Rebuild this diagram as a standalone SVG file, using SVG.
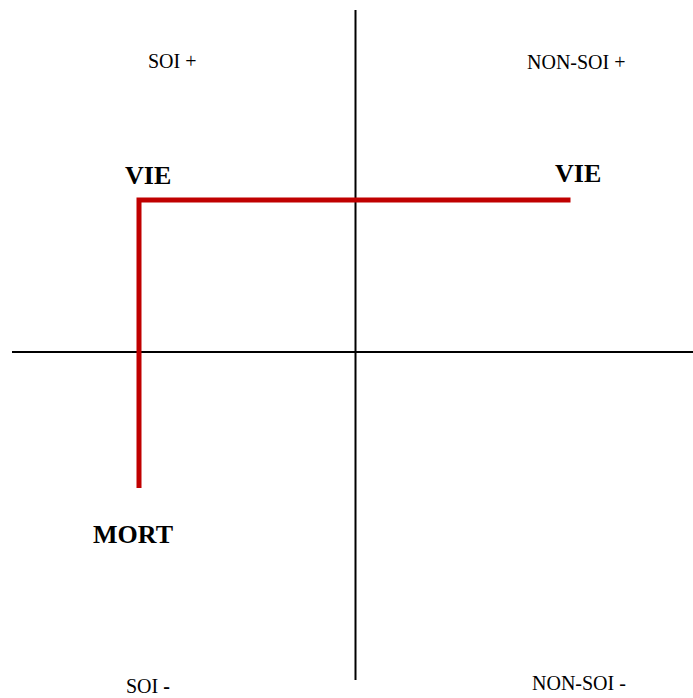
<svg xmlns="http://www.w3.org/2000/svg" width="693" height="698" viewBox="0 0 693 698">
<style>
.axis{stroke:#000;stroke-width:2;fill:none}
.red{stroke:#c00000;stroke-width:5;fill:none;stroke-linecap:butt;stroke-linejoin:miter}
.lbl{font-family:"Liberation Serif","Times New Roman",serif;font-size:20px;fill:#000}
.big{font-family:"Liberation Serif","Times New Roman",serif;font-size:26px;font-weight:bold;fill:#000}
</style>
<rect width="693" height="698" fill="#fff"/>
<g id="connectors">
<line class="axis" x1="355.5" y1="10" x2="355.5" y2="680"/>
<line class="axis" x1="12" y1="352" x2="693" y2="352"/>
<polyline class="red" points="139,488 139,200 570.5,200"/>
</g>
<g id="soi-plus"><text class="lbl" x="148" y="68">SOI +</text></g>
<g id="nonsoi-plus"><text class="lbl" x="527" y="69">NON-SOI +</text></g>
<g id="soi-minus"><text class="lbl" x="126" y="693">SOI <tspan font-weight="bold">-</tspan></text></g>
<g id="nonsoi-minus"><text class="lbl" x="532" y="690">NON-SOI -</text></g>
<g id="vie-left"><text class="big" x="125" y="184">VIE</text></g>
<g id="vie-right"><text class="big" x="555" y="181.5">VIE</text></g>
<g id="mort"><text class="big" x="93" y="543">MORT</text></g>
</svg>
